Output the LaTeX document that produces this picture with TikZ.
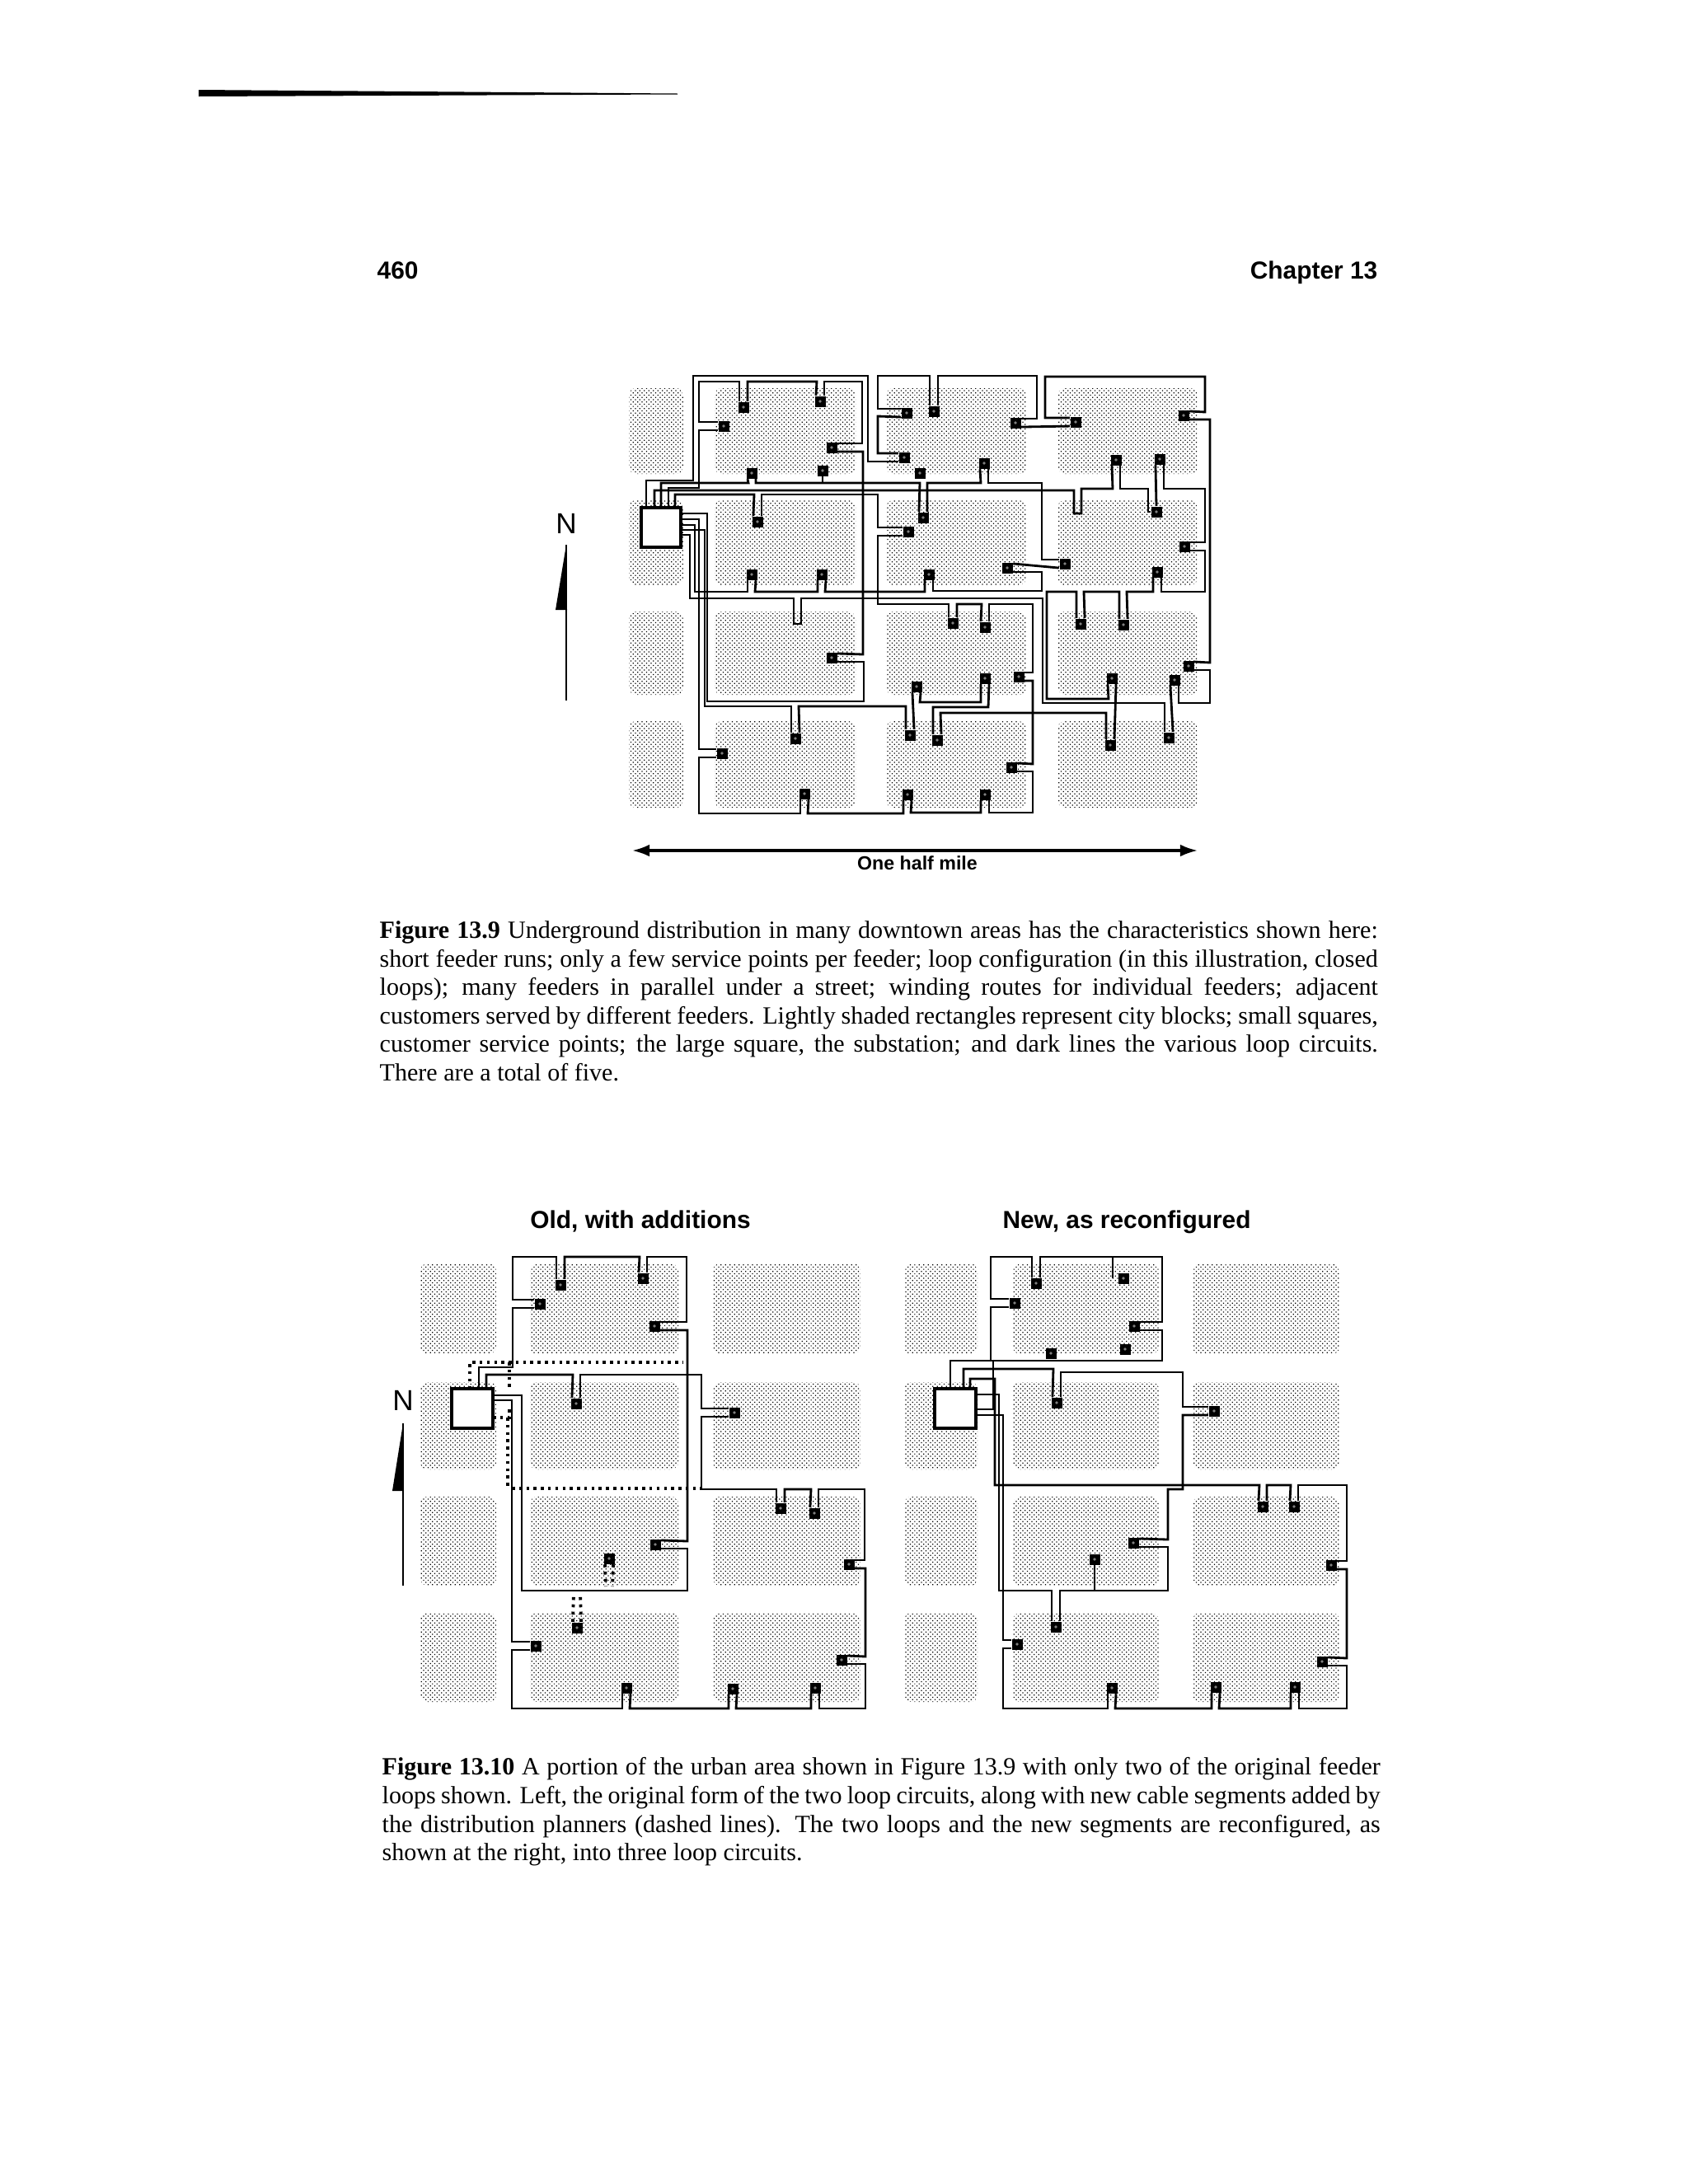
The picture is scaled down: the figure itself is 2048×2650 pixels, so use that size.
\documentclass[tikz,border=0pt]{standalone}
\usepackage{fontspec}
\setmainfont{Liberation Serif}
\setsansfont{Liberation Sans}
\usetikzlibrary{patterns.meta,arrows.meta}
\tikzset{
  block/.style={pattern={Dots[distance=1.1pt,radius=.25pt,angle=45]},pattern color=black,rounded corners=2.5pt},
  wire/.style={line width=.8pt,line join=miter},
  newseg/.style={line width=1.1pt,dash pattern=on 1pt off 1.5pt},
  svc/.style={rectangle,fill=black,minimum size=3.7pt,inner sep=0pt,
    path picture={\fill[black!50] (path picture bounding box.center) circle (.55pt);}},
  subst/.style={rectangle,draw,line width=1pt,fill=white,inner sep=0pt},
  pagehead/.style={anchor=base,inner sep=0pt,font=\sffamily\bfseries\fontsize{8.5}{10}\selectfont},
  north/.style={inner sep=0pt,font=\sffamily\fontsize{10}{12}\selectfont},
  caption/.style={anchor=north west,inner sep=0pt,text width=344.6pt,align=justify,font=\fontsize{8.55}{9.84}\selectfont}
}
\begin{document}
\begin{tikzpicture}[x=0.1mm,y=-0.1mm]
  \useasboundingbox (0,0) rectangle (2048,2650);
  % Page head
  \fill (241,109) -- (822,113.5) -- (822,114.5) -- (241,117) -- cycle;
  \node[pagehead,anchor=base west] (pg) at (457,338) {460};
  \node[pagehead,anchor=base east] (chap) at (1672,338) {Chapter 13};

  % City blocks, upper figure
  \foreach \xa/\xb in {763/829,867/1038,1075/1245,1283/1453}
    \foreach \ya/\yb in {471/575,607/710,742/843,875/980}
      \fill[block] (\xa,\ya) rectangle (\xb,\yb);
  % City blocks, lower figures
  \foreach \xa/\xb in {510/602,643/823,865/1044,1097/1186,1229/1406,1447/1625}
    \foreach \ya/\yb in {1533/1643,1677/1783,1816/1924,1957/2065}
      \fill[block] (\xa,\ya) rectangle (\xb,\yb);

  % Service points, upper figure
  \foreach \n/\x/\y in {a1/902/494,a2/995/487,a3/878/517,a4/1009/543,a5/912/574,a6/998/571,
      b1/919/633,b2/912/697,b3/997/697,c1/1009/798,d1/965/896,d2/876/914,d3/976/963,
      e1/1100/501,e2/1133/499,e3/1097/555,e4/1232/513,e5/1116/574,e6/1194/562,
      f1/1305/512,f2/1436/504,f3/1354/558,f4/1407/557,
      g1/1120/628,g2/1102/645,g3/1127/697,g4/1222/689,g5/1292/684,
      h1/1403/621,h2/1437/663,h3/1404/694,
      i1/1156/756,i2/1195/761,i3/1112/833,i4/1195/823,i5/1236/821,
      j1/1104/892,j2/1137/898,j3/1227/931,j4/1101/964,j5/1195/964,
      k1/1311/757,k2/1363/758,k3/1349/823,k4/1442/808,k5/1425/825,l1/1347/904,l2/1418/895}
    \node[svc] (\n) at (\x,\y) {};
  % Substation, upper figure
  \node[subst,minimum size=13.6pt] (sub) at (802,640) {};
  \foreach \n/\x in {t1/784,t2/794,t3/802,t4/811,t5/819} \coordinate (\n) at (\x,616);
  \foreach \n/\y in {r1/623,r2/630,r3/637,r4/643,r5/649} \coordinate (\n) at (826,\y);

  % Loop 1
  \draw[wire] (t1) |- (841,583) |- (1053,456) |- (e3.215);
  \draw[wire] (e3.145) -| (1065,505) -- (e1.215);
  \draw[wire] (e1.145) -| (1065,456) -| (e2.125);
  \draw[wire] (e2.55) |- (1258,456) |- (e4.35);
  \draw[wire] (e4.325) -- (f1.215);
  \draw[wire] (f1.145) -| (1268,457) -| (1462,500) -- (f2.35);
  \draw[wire] (f2.325) -| (1468,804) -- (k4.35);
  \draw[wire] (k4.325) -| (1468,853) -| (k5.305);
  \draw[wire] (k5.235) -- (l2.55);
  \draw[wire] (l2.125) |- (1265,853) |- (972,726) |- (963,757) |- (837,726) |- (r5);
  % Loop 2
  \draw[wire] (t2) |- (1303,595) |- (1312,623) |- (1350,593) -- (f3.235);
  \draw[wire] (f3.305) |- (1393,593) |- (h1.west);
  \draw[wire] (h1.north) -- (f4.235);
  \draw[wire] (f4.305) |- (1462,593) |- (h2.35);
  \draw[wire] (h2.325) -| (1462,718) -| (h3.305);
  \draw[wire] (h3.235) |- (1367,718) -- (k2.55);
  \draw[wire] (k2.125) |- (1315,718) -- (k1.55);
  \draw[wire] (k1.125) |- (1270,718) |- (1345,848) -- (k3.235);
  \draw[wire] (k3.305) -- (l1.55);
  \draw[wire] (l1.125) |- (1141,865) -- (j2.55);
  \draw[wire] (j2.125) |- (1199,858) -- (i4.305);
  \draw[wire] (i4.235) |- (1116,852) -- (i3.305);
  \draw[wire] (i3.235) -- (j1.55);
  \draw[wire] (j1.125) |- (969,857) -- (d1.55);
  \draw[wire] (d1.125) |- (855,857) |- (r4);
  % Loop 3
  \draw[wire] (t3) |- (908,586) -- (a5.235);
  \draw[wire] (a5.305) |- (1116,586) -- (g1.125);
  \draw[wire] (g1.55) |- (1190,586) -- (e6.235);
  \draw[wire] (e6.305) |- (1264,586) |- (g5.145);
  \draw[wire] (g5.215) -- (g4.35);
  \draw[wire] (g4.325) -| (1264,717) -| (g3.305);
  \draw[wire] (g3.235) |- (1001,718) -- (b3.305);
  \draw[wire] (b3.235) |- (916,718) -- (b2.305);
  \draw[wire] (b2.235) |- (843,718) |- (r3);
  \draw[wire] (a6.south) |- (990,586);
  % Loop 4
  \draw[wire] (t4) |- (848,592) |- (a3.215);
  \draw[wire] (a3.145) -| (848,463) -| (a1.125);
  \draw[wire] (a1.55) |- (991,463) -- (a2.125);
  \draw[wire] (a2.55) |- (1046,463) |- (a4.35);
  \draw[wire] (a4.325) -| (1047,794) -- (c1.35);
  \draw[wire] (c1.325) -| (1048,851) -| (858,623) -- (r1);
  % Loop 5
  \draw[wire] (t5) |- (915,600) -- (b1.125);
  \draw[wire] (b1.55) |- (1065,600) |- (g2.145);
  \draw[wire] (g2.215) -| (1065,733) -| (i1.125);
  \draw[wire] (i1.55) |- (1191,733) -- (i2.125);
  \draw[wire] (i2.55) |- (1253,733) |- (i5.35);
  \draw[wire] (i5.325) -| (1253,927) -- (j3.35);
  \draw[wire] (j3.325) -| (1253,986) -| (j5.305);
  \draw[wire] (j5.235) |- (1105,986) -- (j4.305);
  \draw[wire] (j4.235) |- (980,987) -- (d3.305);
  \draw[wire] (d3.235) |- (848,987) |- (d2.215);
  \draw[wire] (d2.145) -| (848,630) -- (r2);

  % North arrow, upper figure
  \node[north] (nup) at (687,635) {N};
  \coordinate (nuptip) at (687,661);
  \coordinate (nupend) at (687,850);
  \fill (nuptip) -- (674,740) -- (688,740) -- cycle;
  \draw[line width=.7pt] (nuptip) -- (nupend);
  % Scale
  \coordinate (scl) at (767,1032);
  \coordinate (scr) at (1453,1032);
  \draw[line width=.9pt,{Latex[length=6pt,width=4.2pt]}-{Latex[length=6pt,width=4.2pt]}] (scl) -- (scr);
  \node[pagehead,font=\sffamily\bfseries\fontsize{6.6}{8}\selectfont] (half) at (1113,1055) {One half mile};

  % First caption
  \node[caption] (capa) at (460,1117) {\textbf{Figure 13.9} Underground distribution in many downtown areas has the characteristics shown here:\linebreak
    short feeder runs; only a few service points per feeder; loop configuration (in this illustration, closed\linebreak
    loops); many feeders in parallel under a street; winding routes for individual feeders; adjacent\linebreak
    customers served by different feeders. Lightly shaded rectangles represent city blocks; small squares,\linebreak
    customer service points; the large square, the substation; and dark lines the various loop circuits.\linebreak
    There are a total of five.};

  % Titles of the two lower figures
  \node[pagehead] (old) at (777,1490) {Old, with additions};
  \node[pagehead] (new) at (1367,1490) {New, as reconfigured};

  % Old figure
  \foreach \n/\x/\y in {p1/680/1559,p2/780/1551,p3/655/1582,p4/794/1609,p5/699/1703,p6/891/1714,
      p7/947/1830,p8/988/1836,p9/1030/1898,p10/795/1874,p11/739/1891,p12/700/1975,p13/650/1997,
      p14/760/2048,p15/889/2049,p16/989/2048,p17/1021/2014}
    \node[svc] (\n) at (\x,\y) {};
  \node[subst,minimum width=14.2pt,minimum height=13.6pt] (subold) at (573,1709) {};
  \coordinate (u1) at (581,1685); \coordinate (u2) at (590,1685);
  \coordinate (v1) at (598,1693); \coordinate (v2) at (598,1699);

  \draw[wire] (u1) |- (622,1659) |- (p3.215);
  \draw[wire] (p3.145) -| (622,1525) -| (p1.125);
  \draw[wire] (p1.55) |- (776,1525) -- (p2.125);
  \draw[wire] (p2.55) |- (833,1525) |- (p4.35);
  \draw[wire] (p4.325) -| (834,1870) -- (p10.35);
  \draw[wire] (p10.325) -| (834,1930) -| (633,1693) -- (v1);

  \draw[wire] (u2) |- (695,1668) -- (p5.125);
  \draw[wire] (p5.55) |- (851,1668) |- (p6.145);
  \draw[wire] (p6.215) -| (851,1807) -| (p7.125);
  \draw[wire] (p7.55) |- (984,1807) -- (p8.125);
  \draw[wire] (p8.55) |- (1049,1807) |- (p9.35);
  \draw[wire] (p9.325) -| (1050,2010) -- (p17.35);
  \draw[wire] (p17.325) -| (1050,2073) -| (p16.305);
  \draw[wire] (p16.235) |- (893,2073) -- (p15.305);
  \draw[wire] (p15.235) |- (764,2073) -- (p14.305);
  \draw[wire] (p14.235) |- (621,2073) |- (p13.215);
  \draw[wire] (p13.145) -| (621,1699) -- (v2);

  % New cable segments
  \draw[newseg] (570,1685) |- (829,1653);
  \draw[newseg] (618,1653) -- (618,1688);
  \draw[newseg] (598,1720) -| (618,1705);
  \draw[newseg] (616,1720) -- (616,1803);
  \draw[newseg] (621,1806) -- (850,1806);
  \draw[newseg] (p11.235) -- (735,1925);
  \draw[newseg] (p11.305) -- (743,1925);
  \draw[newseg] (p12.125) -- (696,1933);
  \draw[newseg] (p12.55) -- (704,1933);

  % North arrow, lower figure
  \node[north] (nlo) at (489,1699) {N};
  \coordinate (nlotip) at (489,1727);
  \coordinate (nloend) at (489,1924);
  \fill (nlotip) -- (476,1809) -- (490,1809) -- cycle;
  \draw[line width=.7pt] (nlotip) -- (nloend);

  % Reconfigured figure
  \foreach \n/\x/\y in {q1/1257/1557,q2/1363/1551,q3/1231/1581,q4/1376/1609,q5/1275/1642,q6/1365/1637,
      q7/1282/1702,q8/1473/1712,q9/1532/1828,q10/1570/1828,q11/1615/1899,q12/1375/1872,q13/1328/1892,
      q14/1281/1974,q15/1234/1995,q16/1349/2048,q17/1475/2047,q18/1571/2047,q19/1604/2016}
    \node[svc] (\n) at (\x,\y) {};
  \node[subst,minimum width=14.2pt,minimum height=13.6pt] (subnew) at (1159,1709) {};
  \coordinate (w1) at (1153,1685); \coordinate (w2) at (1169,1685); \coordinate (w3) at (1177,1685);
  \coordinate (x1) at (1184,1692); \coordinate (x2) at (1184,1710); \coordinate (x3) at (1184,1717);

  \draw[wire] (w1) |- (1410,1651) |- (q4.325);
  \draw[wire] (q4.35) -| (1410,1525) -| (q1.55);
  \draw[wire] (q1.125) |- (1202,1525) |- (q3.145);
  \draw[wire] (q3.215) -| (1202,1651) -| (1205,1710) -- (x2);
  \draw[wire] (1350,1525) -- (1350,1551);

  \draw[wire] (w2) |- (1278,1661) -- (q7.125);
  \draw[wire] (q7.55) |- (1435,1665) |- (q8.145);
  \draw[wire] (q8.215) -| (1435,1807) -| (1417,1868) -- (q12.35);
  \draw[wire] (q12.325) -| (1417,1930) -| (q14.55);
  \draw[wire] (q14.125) |- (1212,1930) |- (x1);
  \draw[wire] (q13.south) |- (1324,1930);

  \draw[wire] (w3) |- (1207,1673) |- (1528,1802) -- (q9.125);
  \draw[wire] (q9.55) |- (1566,1802) -- (q10.125);
  \draw[wire] (q10.55) |- (1634,1802) |- (q11.35);
  \draw[wire] (q11.325) -| (1634,2012) -- (q19.35);
  \draw[wire] (q19.325) -| (1634,2073) -| (q18.305);
  \draw[wire] (q18.235) |- (1479,2073) -- (q17.305);
  \draw[wire] (q17.235) |- (1353,2073) -- (q16.305);
  \draw[wire] (q16.235) |- (1217,2073) |- (q15.215);
  \draw[wire] (q15.145) -| (1217,1717) -- (x3);

  % Second caption
  \node[caption] (capb) at (463,2132) {\textbf{Figure 13.10} A portion of the urban area shown in Figure 13.9 with only two of the original feeder\linebreak
    loops shown. Left, the original form of the two loop circuits, along with new cable segments added by\linebreak
    the distribution planners (dashed lines). The two loops and the new segments are reconfigured, as\linebreak
    shown at the right, into three loop circuits.};
\end{tikzpicture}
\end{document}
